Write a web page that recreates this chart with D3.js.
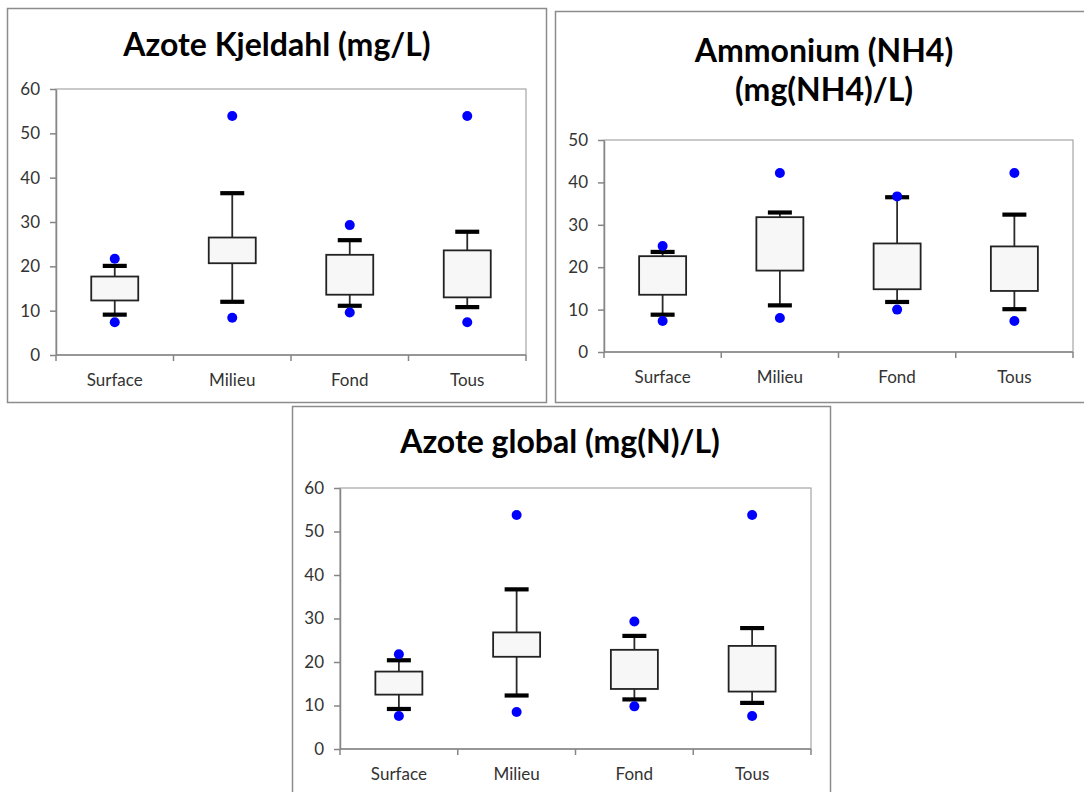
<!DOCTYPE html>
<html lang="fr">
<head>
<meta charset="UTF-8">
<title>Azote - boîtes à moustaches</title>
<script src="https://d3js.org/d3.v7.min.js"></script>
<style>
  body { margin: 0; background: #fff; overflow: hidden; }
  text { font-family: Lato, "Open Sans", sans-serif; }
</style>
</head>
<body>
<script>
// categories shared by all three charts
const categories = ["Surface", "Milieu", "Fond", "Tous"];

// Azote Kjeldahl (mg/L)
const kjTicks = [0, 10, 20, 30, 40, 50, 60];
const kjMin   = [7.4, 8.4, 9.6, 7.4];
const kjLow   = [9.1, 12.0, 11.1, 10.8];
const kjQ1    = [12.3, 20.7, 13.6, 13.0];
const kjQ3    = [17.7, 26.5, 22.6, 23.6];
const kjHigh  = [20.1, 36.5, 25.9, 27.8];
const kjMax   = [21.7, 53.9, 29.3, 53.9];

// Ammonium (NH4) (mg(NH4)/L)
const nhTicks = [0, 10, 20, 30, 40, 50];
const nhMin   = [7.3, 8.0, 10.0, 7.3];
const nhLow   = [8.8, 11.0, 11.8, 10.1];
const nhQ1    = [13.5, 19.2, 14.8, 14.4];
const nhQ3    = [22.6, 31.8, 25.6, 24.9];
const nhHigh  = [23.6, 32.9, 36.5, 32.4];
const nhMax   = [25.0, 42.2, 36.7, 42.2];

// Azote global (mg(N)/L)
const ngTicks = [0, 10, 20, 30, 40, 50, 60];
const ngMin   = [7.6, 8.5, 9.8, 7.6];
const ngLow   = [9.2, 12.3, 11.4, 10.6];
const ngQ1    = [12.5, 21.2, 13.8, 13.2];
const ngQ3    = [17.8, 26.8, 22.8, 23.7];
const ngHigh  = [20.4, 36.7, 26.0, 27.8];
const ngMax   = [21.8, 53.8, 29.3, 53.8];

const svg = d3.select("body").append("svg")
  .attr("width", 1084)
  .attr("height", 792);

svg.append("rect").attr("width", 1084).attr("height", 792).attr("fill", "#fff");

function zipBox(min, low, q1, q3, high, max) {
  return categories.map((c, i) => ({
    cat: c, min: min[i], low: low[i], q1: q1[i], q3: q3[i], high: high[i], max: max[i]
  }));
}

function panel(cfg) {
  const g = svg.append("g");

  // chart frame
  g.append("rect")
    .attr("x", cfg.frame[0] + 0.5).attr("y", cfg.frame[1] + 0.5)
    .attr("width", cfg.frame[2]).attr("height", cfg.frame[3])
    .attr("fill", "#fff").attr("stroke", "#8c8c8c").attr("stroke-width", 1.5);

  // title
  cfg.title.forEach((line, i) => {
    g.append("text")
      .attr("x", cfg.titleX).attr("y", cfg.titleY + i * 39)
      .attr("text-anchor", "middle")
      .attr("font-size", 32).attr("font-weight", 700)
      .attr("fill", "#000")
      .text(line);
  });

  const [left, top, right, bottom] = cfg.plot;
  const x = d3.scaleBand().domain(categories).range([left, right]).padding(0);
  const y = d3.scaleLinear().domain([0, d3.max(cfg.ticks)]).range([bottom, top]);

  // plot area border
  g.append("rect")
    .attr("x", left).attr("y", top)
    .attr("width", right - left).attr("height", bottom - top)
    .attr("fill", "none").attr("stroke", "#a6a6a6").attr("stroke-width", 1.2);

  // y axis
  const ya = g.append("g")
    .attr("transform", `translate(${left},0)`)
    .call(d3.axisLeft(y).tickValues(cfg.ticks).tickSize(6).tickPadding(10).tickSizeOuter(0));
  ya.select(".domain").attr("stroke", "#868686").attr("stroke-width", 1.5);
  ya.selectAll(".tick line").attr("stroke", "#868686").attr("stroke-width", 1.5);
  ya.selectAll(".tick text")
    .attr("font-family", "Lato, sans-serif").attr("font-size", 17).attr("fill", "#333");

  // x axis: ticks between categories, labels centred
  const edges = d3.range(categories.length + 1).map(i => left + i * x.step());
  g.append("line")
    .attr("x1", left).attr("x2", right).attr("y1", bottom).attr("y2", bottom)
    .attr("stroke", "#868686").attr("stroke-width", 1.5);
  g.selectAll("line.xtick").data(edges).enter().append("line")
    .attr("class", "xtick")
    .attr("x1", d => d).attr("x2", d => d)
    .attr("y1", bottom).attr("y2", bottom + 6)
    .attr("stroke", "#868686").attr("stroke-width", 1.5);
  g.selectAll("text.xlab").data(categories).enter().append("text")
    .attr("class", "xlab")
    .attr("x", d => x(d) + x.bandwidth() / 2)
    .attr("y", bottom + 31)
    .attr("text-anchor", "middle")
    .attr("font-size", 17).attr("fill", "#333")
    .text(d => d);

  const boxW = 47, capW = 24;
  const cx = d => x(d.cat) + x.bandwidth() / 2;
  const boxes = g.selectAll("g.box").data(cfg.data).enter().append("g").attr("class", "box");

  // whiskers
  boxes.append("line")
    .attr("x1", cx).attr("x2", cx)
    .attr("y1", d => y(d.low)).attr("y2", d => y(d.q1))
    .attr("stroke", "#2b2b2b").attr("stroke-width", 1.8);
  boxes.append("line")
    .attr("x1", cx).attr("x2", cx)
    .attr("y1", d => y(d.q3)).attr("y2", d => y(d.high))
    .attr("stroke", "#2b2b2b").attr("stroke-width", 1.8);

  // box
  boxes.append("rect")
    .attr("x", d => cx(d) - boxW / 2)
    .attr("y", d => y(d.q3))
    .attr("width", boxW)
    .attr("height", d => y(d.q1) - y(d.q3))
    .attr("fill", "#f7f7f7").attr("stroke", "#222").attr("stroke-width", 1.8);

  // caps
  ["low", "high"].forEach(k => {
    boxes.append("line")
      .attr("x1", d => cx(d) - capW / 2).attr("x2", d => cx(d) + capW / 2)
      .attr("y1", d => y(d[k])).attr("y2", d => y(d[k]))
      .attr("stroke", "#000").attr("stroke-width", 4.2);
  });

  // min / max points
  ["min", "max"].forEach(k => {
    boxes.append("circle")
      .attr("cx", cx).attr("cy", d => y(d[k]))
      .attr("r", 5)
      .attr("fill", "#0000ff");
  });
}

panel({
  frame: [7, 8, 539, 394],
  title: ["Azote Kjeldahl (mg/L)"],
  titleX: 277, titleY: 56,
  plot: [56, 89, 526, 355],
  ticks: kjTicks,
  data: zipBox(kjMin, kjLow, kjQ1, kjQ3, kjHigh, kjMax)
});

panel({
  frame: [555, 11, 540, 391],
  title: ["Ammonium (NH4)", "(mg(NH4)/L)"],
  titleX: 824, titleY: 62,
  plot: [604, 140, 1073, 352],
  ticks: nhTicks,
  data: zipBox(nhMin, nhLow, nhQ1, nhQ3, nhHigh, nhMax)
});

panel({
  frame: [292, 406, 538, 400],
  title: ["Azote global (mg(N)/L)"],
  titleX: 560, titleY: 453,
  plot: [340, 488, 811, 749],
  ticks: ngTicks,
  data: zipBox(ngMin, ngLow, ngQ1, ngQ3, ngHigh, ngMax)
});
</script>
</body>
</html>
